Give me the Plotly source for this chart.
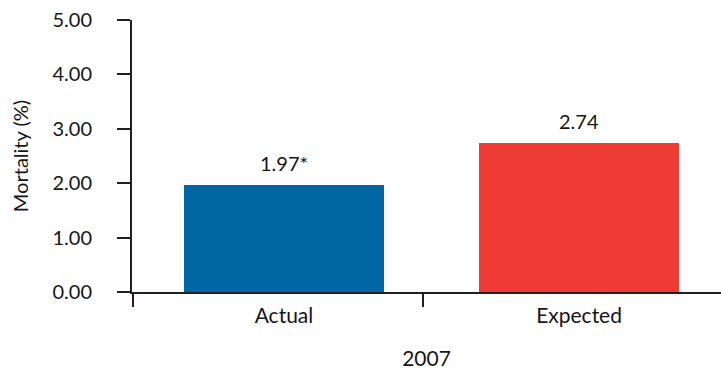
import plotly.graph_objects as go

# Mortality in 2007: observed vs. risk-adjusted expected
categories = ["Actual", "Expected"]
mortality = [1.97, 2.74]
markers = ["*", ""]
bar_colors = ["#0066a4", "#ee3b33"]
y_ticks = [0, 1, 2, 3, 4, 5]

ink = "#231f20"
text_color = "#161616"
font_family = "Lato, 'Open Sans', sans-serif"
x_range = [-0.515, 1.481]

labels = [f"{v:.2f}{m}" for v, m in zip(mortality, markers)]

fig = go.Figure()
fig.add_trace(go.Bar(
    x=categories,
    y=mortality,
    width=0.678,
    marker=dict(color=bar_colors, line=dict(width=0)),
    hoverinfo="skip",
))
# invisible trace so the tick-only overlay axis is drawn
fig.add_trace(go.Scatter(x=[x_range[0]], y=[0], xaxis="x2", mode="markers",
                         marker=dict(opacity=0), showlegend=False, hoverinfo="skip"))

# value labels above each bar
for cat, val, lab in zip(categories, mortality, labels):
    fig.add_annotation(x=cat, y=val, text=lab, showarrow=False,
                       xanchor="center", yanchor="bottom", yshift=8,
                       font=dict(size=20, color=text_color, family=font_family))

fig.update_layout(
    width=721,
    height=370,
    margin=dict(l=132, r=0, t=20, b=78),
    paper_bgcolor="white",
    plot_bgcolor="white",
    showlegend=False,
    bargap=0,
    font=dict(family=font_family, color=text_color, size=20),
    xaxis=dict(
        type="category",
        range=x_range,
        showgrid=False,
        zeroline=False,
        showline=True,
        linecolor=ink,
        linewidth=2,
        ticks="",
        ticklabelstandoff=4,
        tickfont=dict(size=21, color=text_color),
        title=dict(text="2007", font=dict(size=21, color=text_color), standoff=33),
        automargin=False,
    ),
    xaxis2=dict(
        overlaying="x",
        anchor="y",
        type="linear",
        range=x_range,
        showgrid=False,
        zeroline=False,
        showline=False,
        tickmode="array",
        tickvals=[x_range[0] + 0.003, 0.471],
        showticklabels=False,
        ticks="outside",
        ticklen=14,
        tickwidth=2,
        tickcolor=ink,
    ),
    yaxis=dict(
        range=[0, 5],
        tickmode="array",
        tickvals=y_ticks,
        tickformat=".2f",
        showgrid=False,
        zeroline=False,
        showline=True,
        linecolor=ink,
        linewidth=2,
        ticks="outside",
        ticklen=13,
        tickwidth=2,
        tickcolor=ink,
        ticklabelstandoff=21,
        tickfont=dict(size=20, color=text_color),
        title=dict(text="Mortality (%)", font=dict(size=20, color=text_color), standoff=18),
        automargin=False,
    ),
)

fig.write_html("out.html")
